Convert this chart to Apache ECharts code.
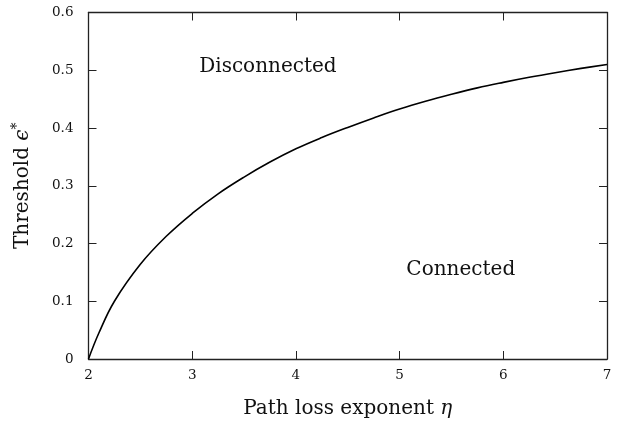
<!DOCTYPE html>
<html>
<head>
<meta charset="utf-8">
<script src="https://cdn.jsdelivr.net/npm/echarts@6/dist/echarts.min.js"></script>
<style>
html,body{margin:0;padding:0;background:#fff;}
#c{width:621px;height:428px;}
</style>
</head>
<body>
<div id="c"></div>
<script>
// Data
var eta = [2.0, 2.1, 2.25, 2.5, 2.75, 3.0, 3.25, 3.5, 3.75, 4.0, 4.25, 4.5, 4.75, 5.0, 5.25, 5.5, 5.75, 6.0, 6.25, 6.5, 6.75, 7.0];
var threshold = [0.0, 0.045, 0.100, 0.164, 0.2125, 0.252, 0.286, 0.315, 0.341, 0.364, 0.3835, 0.401, 0.4175, 0.433, 0.4465, 0.4585, 0.4695, 0.479, 0.4878, 0.4958, 0.5032, 0.510];
var regionLabels = ['Disconnected', 'Connected'];
var regionEta = [3.73, 5.59];
var regionEps = [0.506, 0.155];
var xTitle = 'Path loss exponent ';
var yTitle = 'Threshold ';

var font = 'DejaVu Serif';
var axisColor = '#222';

var lineData = eta.map(function (e, i) { return [e, threshold[i]]; });
var markData = regionLabels.map(function (t, i) {
  return { coord: [regionEta[i], regionEps[i]], name: t, value: t };
});

function axisCommon() {
  return {
    axisLine: { show: true, onZero: false, lineStyle: { color: axisColor, width: 1.3 } },
    axisTick: { show: true, inside: true, length: 8, lineStyle: { color: axisColor, width: 1 } },
    splitLine: { show: false }
  };
}

var chart = echarts.init(document.getElementById('c'), null, { renderer: 'canvas' });
var opt = {
  animation: false,
  backgroundColor: '#fff',
  grid: { left: 88.5, right: 14, top: 12.5, bottom: 69, containLabel: false },
  xAxis: [
    Object.assign(axisCommon(), {
      type: 'value', min: 2, max: 7, interval: 1, position: 'bottom',
      name: '{t|' + xTitle + '}{m|η}', nameLocation: 'middle', nameGap: 40,
      nameTextStyle: { rich: { t: { fontFamily: font, fontSize: 20, color: '#111' }, m: { fontFamily: font, fontStyle: 'italic', fontSize: 20, color: '#111' } } },
      axisLabel: { fontFamily: font, fontSize: 13.5, color: '#111', margin: 9 }
    }),
    Object.assign(axisCommon(), {
      type: 'value', min: 2, max: 7, interval: 1, position: 'top',
      axisLabel: { show: false }
    })
  ],
  yAxis: [
    Object.assign(axisCommon(), {
      type: 'value', min: 0, max: 0.6, interval: 0.1, position: 'left',
      name: '{t|' + yTitle + '}{m|ϵ}{s|*}', nameLocation: 'middle', nameGap: 54, nameRotate: 90,
      nameTextStyle: { rich: {
        t: { fontFamily: font, fontSize: 20, color: '#111' },
        m: { fontFamily: font, fontStyle: 'italic', fontSize: 20, color: '#111' },
        s: { fontFamily: font, fontSize: 14, color: '#111', verticalAlign: 'top', padding: [0, 0, 10, 0] }
      } },
      axisLabel: { fontFamily: font, fontSize: 13.5, color: '#111', margin: 15,
        formatter: function (v) { return v === 0 ? '0' : v.toFixed(1); } }
    }),
    Object.assign(axisCommon(), {
      type: 'value', min: 0, max: 0.6, interval: 0.1, position: 'right',
      axisLabel: { show: false }
    })
  ],
  series: [{
    type: 'line',
    data: lineData,
    smooth: 0.4,
    showSymbol: false,
    lineStyle: { color: '#000', width: 1.6 },
    clip: true,
    markPoint: {
      symbol: 'circle', symbolSize: 0,
      label: { show: true, position: 'inside', formatter: '{b}', fontFamily: font, fontSize: 20, color: '#111' },
      data: markData
    }
  }]
};
chart.setOption(opt);
</script>
</body>
</html>
